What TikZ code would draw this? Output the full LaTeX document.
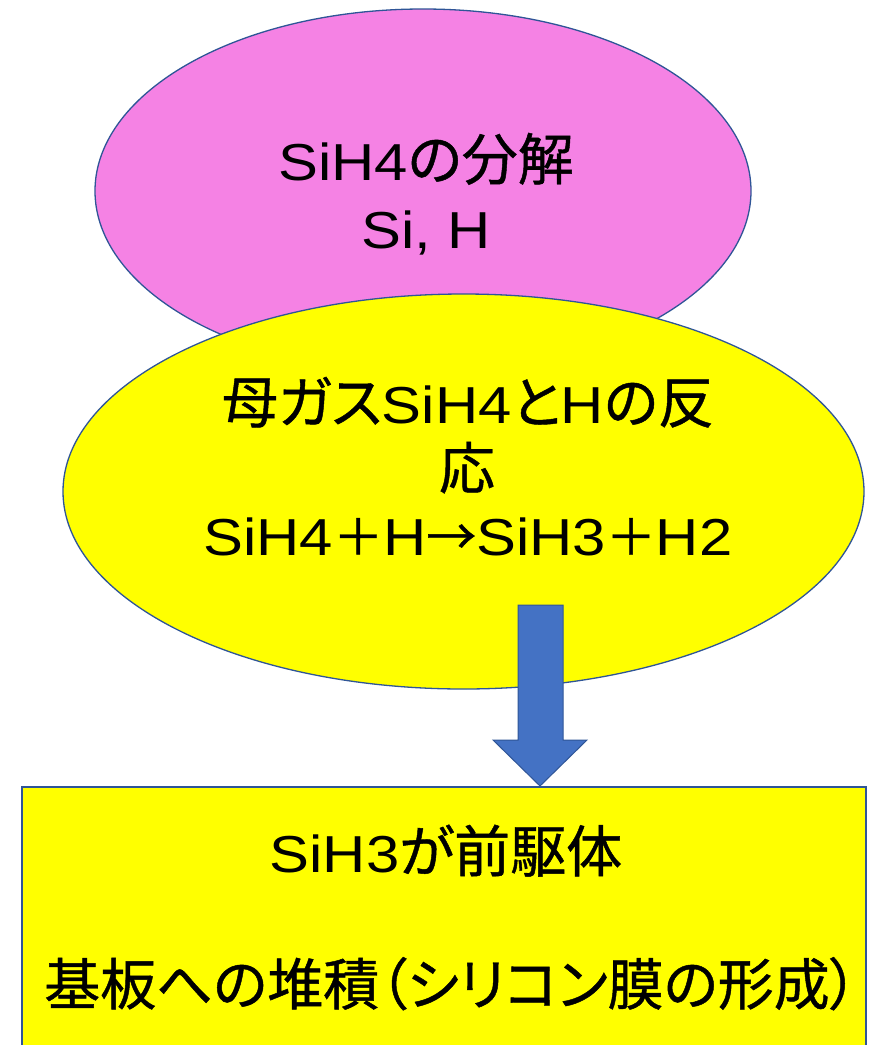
\documentclass[tikz,border=0pt]{standalone}
\usepackage{fontspec}
\setmainfont{Liberation Sans}[FakeStretch=1.15]
\newfontfamily\jp{Noto Sans CJK JP}[RawFeature=+palt, FakeBold=0.8]
\usetikzlibrary{shapes.geometric}
\definecolor{pinkfill}{RGB}{245,130,228}
\definecolor{edgeblue}{RGB}{47,85,151}
\definecolor{arrowblue}{RGB}{68,114,196}
\definecolor{yelfill}{RGB}{255,255,0}
\newcommand{\J}[2][56]{{\jp\fontsize{#1}{60}\selectfont #2}}
\begin{document}
\begin{tikzpicture}[x=1pt,y=-1pt,
  txt/.style={font=\fontsize{52}{60}\selectfont, inner sep=0pt, anchor=base},
  oval/.style={ellipse, draw=edgeblue, line width=1.3pt, inner sep=0pt}]
\clip (0,0) rectangle (875,1045);
\fill[white] (0,0) rectangle (875,1045);
\node[oval, fill=pinkfill, minimum width=656pt, minimum height=364pt] (pink) at (423,191) {};
\node[oval, fill=yelfill, minimum width=801pt, minimum height=395pt] (yel) at (463.5,491.5) {};
\node[draw=edgeblue, line width=2pt, fill=yelfill, anchor=north west, minimum width=844pt, minimum height=300pt, inner sep=0pt] (box) at (21,786) {};
\coordinate (tip) at (540,786);
\draw[draw=edgeblue, fill=arrowblue, line width=1pt, line join=miter]
  (518,605) -- (563,605) -- (563,740) -- (587,740) -- (tip) -- (493,740) -- (518,740) -- cycle;
\node[txt] (p1) at (426,180) {SiH4\J{の分解}};
\node[txt] (p2) at (426,248) {Si, H};
\node[txt] (y1) at (468,423) {\J{母ガス}SiH4\J{と}H\J{の反}};
\node[txt] (y2) at (467,489) {\J{応}};
\node[txt] (y3) at (468,555) {SiH4\J[50]{＋}H\J[50]{→}SiH3\J[50]{＋}H2};
\node[txt] (b1) at (446,872) {SiH3\J{が前駆体}};
\node[txt] (b2) at (451,1005) {\J{基板への堆積（シリコン膜の形成）}};
\end{tikzpicture}
\end{document}
